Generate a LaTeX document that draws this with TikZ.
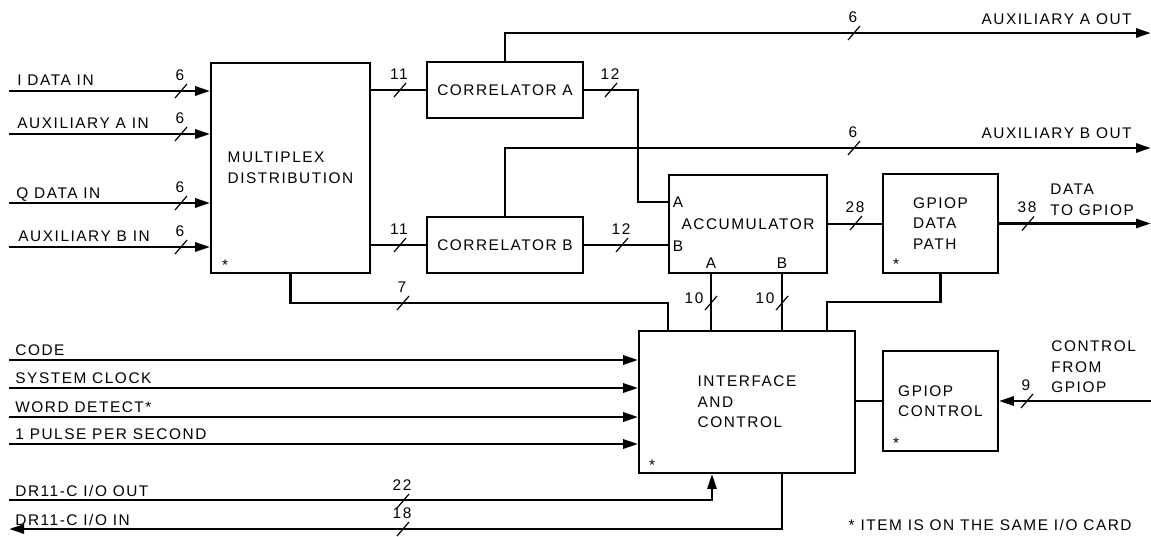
\documentclass[tikz,border=0pt]{standalone}
\usepackage{fontspec}
\setmainfont{Liberation Sans}[LetterSpace=10]
\usetikzlibrary{arrows.meta}

\begin{document}
\begin{tikzpicture}[x=0.5pt, y=-0.5pt,
  font=\fontsize{7.7}{10.3}\selectfont,
  box/.style={draw, line width=0.8pt, inner sep=0pt, align=left},
  sig/.style={line width=1.4pt},
  arr/.style={sig, -{Triangle[length=7.5pt, width=4.5pt]}},
  lbl/.style={inner sep=0pt, anchor=base west},
  star/.style={inner sep=0pt},
  pics/bus/.style={code={
    \draw[line width=0.6pt] (-6,7) -- (6,-7);
    \node[inner sep=0pt] (-n) at (-1,-16) {#1};}},
  pics/vbus/.style={code={
    \draw[line width=0.6pt] (-6,7) -- (6,-7);
    \node[inner sep=0pt] (-n) at (-17,-5) {#1};}}]
  \useasboundingbox (0,0) rectangle (1151,536);

  % blocks
  \node[box, minimum width=79.5pt, minimum height=105pt] (mux) at (290.5,168) {MULTIPLEX\\DISTRIBUTION};
  \node[box, minimum width=78pt, minimum height=28pt] (corA) at (505,90) {CORRELATOR A};
  \node[box, minimum width=78pt, minimum height=28pt] (corB) at (505,245) {CORRELATOR B};
  \node[box, minimum width=79pt, minimum height=49pt] (acc) at (748,224) {ACCUMULATOR};
  \node[box, minimum width=57.5pt, minimum height=49.5pt] (dpath) at (940.5,223.5) {GPIOP\\DATA\\PATH};
  \node[box, minimum width=108pt, minimum height=71pt] (ifc) at (747,402) {INTERFACE\\AND\\CONTROL};
  \node[box, minimum width=57.5pt, minimum height=50pt] (gctl) at (940.5,401) {GPIOP\\CONTROL};

  \node[star] (muxs) at (225,265) {*};
  \node[star] (dpaths) at (896,264) {*};
  \node[star] (ifcs) at (652,465) {*};
  \node[star] (gctls) at (896,443) {*};

  \node[star] (accA) at (678,202) {A};
  \node[star] (accB) at (678,246) {B};
  \node[star] (accoA) at (711,263) {A};
  \node[star] (accoB) at (782,263) {B};

  % inputs to multiplexer
  \coordinate (iI) at (9,91);
  \coordinate (iAa) at (9,134);
  \coordinate (iQ) at (9,203);
  \coordinate (iAb) at (9,247);
  \draw[arr] (iI) -- (iI -| mux.west);
  \draw[arr] (iAa) -- (iAa -| mux.west);
  \draw[arr] (iQ) -- (iQ -| mux.west);
  \draw[arr] (iAb) -- (iAb -| mux.west);
  \node[lbl] (tI) at (17,85) {I DATA IN};
  \node[lbl] (tAa) at (17,128) {AUXILIARY A IN};
  \node[lbl] (tQ) at (16,198) {Q DATA IN};
  \node[lbl] (tAb) at (18,241) {AUXILIARY B IN};
  \pic (bI) at (181,91) {bus=6};
  \pic (bAa) at (181,134) {bus=6};
  \pic (bQ) at (181,203) {bus=6};
  \pic (bAb) at (181,247) {bus=6};

  % correlators
  \draw[sig] (corA.west -| mux.east) -- (corA.west);
  \draw[sig] (corB.west -| mux.east) -- (corB.west);
  \pic (bmA) at (400,90) {bus=11};
  \pic (bmB) at (400,245) {bus=11};
  \coordinate (jA) at (638,90);
  \draw[sig] (corA.east) -- (jA) |- (acc.west |- accA);
  \draw[sig] (corB.east) -- (corB.east -| acc.west);
  \pic (bcA) at (611,90) {bus=12};
  \pic (bcB) at (622,245) {bus=12};

  % auxiliary outputs
  \coordinate (oA) at (1151,33);
  \coordinate (oB) at (1151,148);
  \draw[arr] (corA.north) |- (oA);
  \draw[arr] (corB.north) |- (oB);
  \pic (boA) at (854,33) {bus=6};
  \pic (boB) at (854,148) {bus=6};
  \node[inner sep=0pt, anchor=base east] (toA) at (1132,24) {AUXILIARY A OUT};
  \node[inner sep=0pt, anchor=base east] (toB) at (1132,138) {AUXILIARY B OUT};

  % data path
  \draw[sig] (acc.east) -- (acc.east -| dpath.west);
  \pic (bacc) at (856,223) {bus=28};
  \coordinate (oD) at (1151,223.5);
  \draw[arr] (dpath.east) -- (oD);
  \pic (bD) at (1028,223.5) {bus=38};
  \node[inner sep=0pt, align=left, anchor=west] (tD) at (1050,200) {DATA\\TO GPIOP};

  % into interface and control
  \coordinate (j7) at (668,303);
  \draw[sig] (mux.south) |- (j7) -- (j7 |- ifc.north);
  \pic (b7) at (403,303) {bus=7};
  \draw[sig] (accoA |- acc.south) -- (accoA |- ifc.north);
  \draw[sig] (accoB |- acc.south) -- (accoB |- ifc.north);
  \pic (baA) at (711,303) {vbus=10};
  \pic (baB) at (782,303) {vbus=10};
  \coordinate (j8) at (827,302);
  \draw[sig] (dpath.south) |- (j8) -- (j8 |- ifc.north);

  \coordinate (iCode) at (9,360);
  \coordinate (iClk) at (9,388);
  \coordinate (iWd) at (9,417);
  \coordinate (iPps) at (9,444);
  \draw[arr] (iCode) -- (iCode -| ifc.west);
  \draw[arr] (iClk) -- (iClk -| ifc.west);
  \draw[arr] (iWd) -- (iWd -| ifc.west);
  \draw[arr] (iPps) -- (iPps -| ifc.west);
  \node[lbl] (tCode) at (15,355) {CODE};
  \node[lbl] (tClk) at (15,383) {SYSTEM CLOCK};
  \node[lbl] (tWd) at (15,412) {WORD DETECT*};
  \node[lbl] (tPps) at (15,439) {1 PULSE PER SECOND};

  % DR11-C
  \coordinate (iDo) at (9,500);
  \coordinate (jDo) at (712,500);
  \coordinate (oDi) at (9,529);
  \draw[arr] (iDo) -- (jDo) -- (jDo |- ifc.south);
  \draw[arr] (accoB |- ifc.south) |- (oDi);
  \node[lbl] (tDo) at (15,496) {DR11-C I/O OUT};
  \node[lbl] (tDi) at (15,525) {DR11-C I/O IN};
  \pic (bDo) at (403,501) {bus=22};
  \pic (bDi) at (403,529) {bus=18};

  % GPIOP control
  \draw[sig] (ifc.east |- gctl) -- (gctl.west);
  \coordinate (iC) at (1151,401);
  \draw[arr] (iC) -- (gctl.east);
  \pic (bC) at (1027,401) {bus=9};
  \node[inner sep=0pt, align=left, anchor=west] (tC) at (1051,367) {CONTROL\\FROM\\GPIOP};

  \node[inner sep=0pt, anchor=base east] (note) at (1132,530) {* ITEM IS ON THE SAME I/O CARD};
\end{tikzpicture}
\end{document}
